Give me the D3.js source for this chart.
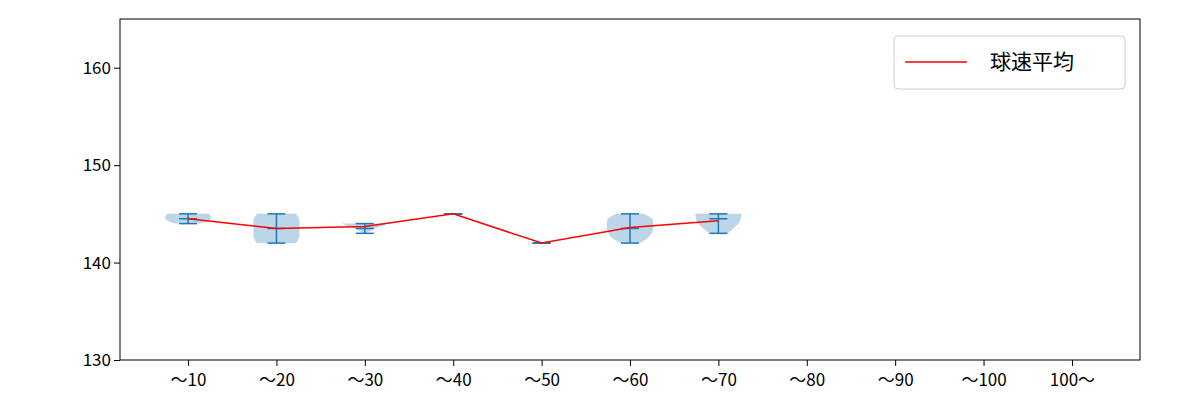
<!DOCTYPE html>
<html><head><meta charset="utf-8">
<script src="https://cdn.jsdelivr.net/npm/d3@7"></script>
<style>body{margin:0;background:#fff}text{font-family:"Noto Sans CJK JP","DejaVu Sans",sans-serif}</style>
</head><body><svg id="c" width="1200" height="400"></svg>
<script>
const categories=["～10","～20","～30","～40","～50","～60","～70","～80","～90","～100","100～"];
const mins=[144,142,143,145,142,142,143,null,null,null,null];
const maxs=[145,145,144,145,142,145,145,null,null,null,null];
const medians=[144.5,143.5,143.5,145,142,143.5,144.5,null,null,null,null];
const means=[144.5,143.5,143.7,145,142,143.6,144.3];
// violin profiles: [value, relative density 0..1]
const profiles=[
 [[144,0.5],[144.3,0.9],[144.6,1],[145,0.9]],
 [[142,0.85],[142.7,1],[143.5,1],[144.3,1],[145,0.85]],
 [[143,0.05],[143.5,0.45],[143.8,0.8],[144,1]],
 [],[],
 [[142,0.45],[142.7,0.85],[143.5,1],[144.3,1],[145,0.6]],
 [[143,0.4],[143.6,0.7],[144.3,0.95],[145,1]]
];
const yTicks=[130,140,150,160];
const svg=d3.select("#c");
const L=120,R=1140,T=19,B=360;
const x=d3.scaleLinear().domain([-0.77,10.77]).range([L,R]);
const y=d3.scaleLinear().domain([130,165]).range([B,T]);
const hw=23;
profiles.forEach((p,i)=>{
 if(!p.length)return;
 const a=d3.area().curve(d3.curveMonotoneY).y(d=>y(d[0])).x0(d=>x(i)-d[1]*hw).x1(d=>x(i)+d[1]*hw);
 svg.append("path").attr("d",a(p)).attr("fill","#1f77b4").attr("fill-opacity",0.3);
});
const blue="#1f77b4";
categories.forEach((c,i)=>{
 if(mins[i]==null)return;
 const cx=x(i);
 svg.append("line").attr("x1",cx).attr("x2",cx).attr("y1",y(mins[i])).attr("y2",y(maxs[i])).attr("stroke",blue).attr("stroke-width",1.5);
 [mins[i],maxs[i]].forEach(v=>svg.append("line").attr("x1",cx-9).attr("x2",cx+9).attr("y1",y(v)).attr("y2",y(v)).attr("stroke",blue).attr("stroke-width",1.5));
 svg.append("line").attr("x1",cx-9).attr("x2",cx+9).attr("y1",y(medians[i])).attr("y2",y(medians[i])).attr("stroke",blue).attr("stroke-width",1.5);
});
svg.append("path").attr("d",d3.line().x((d,i)=>x(i)).y(d=>y(d))(means)).attr("fill","none").attr("stroke","red").attr("stroke-width",1.5);
svg.append("rect").attr("x",L).attr("y",T).attr("width",R-L).attr("height",B-T).attr("fill","none").attr("stroke","#000");
const ax=svg.append("g").attr("transform",`translate(0,${B})`).call(d3.axisBottom(x).tickValues(d3.range(11)).tickFormat(i=>categories[i]).tickSizeOuter(0));
const ay=svg.append("g").attr("transform",`translate(${L},0)`).call(d3.axisLeft(y).tickValues(yTicks).tickSizeOuter(0));
[ax,ay].forEach(g=>{g.select(".domain").remove();g.selectAll("text").attr("font-size",17).attr("fill","#000").style("font-family","'Noto Sans CJK JP',sans-serif");g.selectAll("line").attr("stroke","#000");});
ax.selectAll("text").attr("dy","1.0em");
const lg=svg.append("g");
lg.append("rect").attr("x",894).attr("y",36).attr("width",231).attr("height",53).attr("rx",4).attr("fill","#fff").attr("stroke","#ccc");
lg.append("line").attr("x1",905).attr("x2",967).attr("y1",62).attr("y2",62).attr("stroke","red").attr("stroke-width",1.5);
lg.append("text").attr("x",990).attr("y",69).attr("font-size",21).text("球速平均");
</script></body></html>
